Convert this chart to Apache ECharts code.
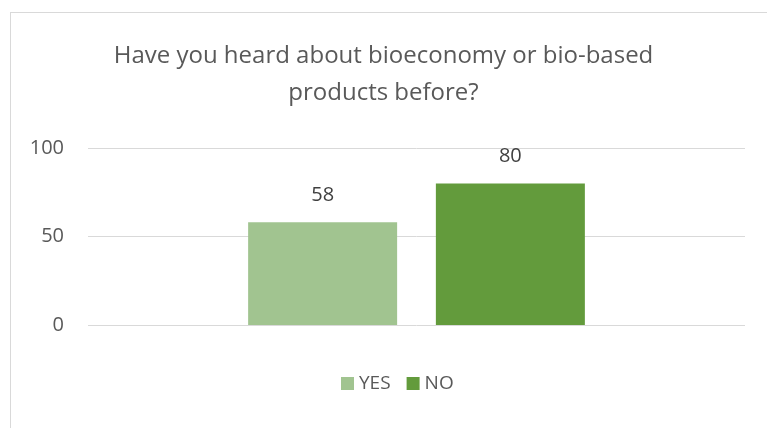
<!DOCTYPE html>
<html>
<head>
<meta charset="utf-8">
<script src="https://cdn.jsdelivr.net/npm/echarts@6/dist/echarts.min.js"></script>
<style>
html, body { margin: 0; padding: 0; background: #fff; }
#frame {
  position: absolute; left: 10px; top: 12px; width: 757px; height: 416px;
  border-left: 1px solid #d9d9d9; border-top: 1px solid #d9d9d9;
}
#chart { position: absolute; left: 0; top: 0; width: 767px; height: 428px; }
</style>
</head>
<body>
<div id="frame"></div>
<div id="chart"></div>
<script>
var categories = ['']
var seriesNames = ['YES', 'NO']
var yesValues = [58]
var noValues = [80]
var yTicks = [0, 50, 100]

var font = 'Open Sans, Noto Sans, sans-serif'
var chart = echarts.init(document.getElementById('chart'))
chart.setOption({
  animation: false,
  title: {
    text: 'Have you heard about bioeconomy or bio-based\nproducts before?',
    left: 'center',
    top: 33,
    textStyle: { color: '#595959', fontSize: 24, fontWeight: 'normal', fontFamily: font, lineHeight: 37 }
  },
  legend: {
    data: seriesNames,
    bottom: 30,
    left: 336,
    itemWidth: 13,
    itemHeight: 13,
    itemGap: 16,
    icon: 'rect',
    textStyle: { color: '#595959', fontSize: 19, fontFamily: font }
  },
  grid: { left: 88, right: 22, top: 148, bottom: 103 },
  xAxis: {
    type: 'category',
    data: categories,
    axisLine: { show: false },
    axisTick: { show: false },
    axisLabel: { show: false }
  },
  yAxis: {
    type: 'value',
    min: yTicks[0],
    max: yTicks[yTicks.length - 1],
    interval: 50,
    axisLine: { show: false },
    axisTick: { show: false },
    splitLine: { lineStyle: { color: '#d9d9d9', width: 1 } },
    axisLabel: { color: '#595959', fontSize: 20, fontFamily: font, margin: 24 }
  },
  series: [
    {
      name: seriesNames[0],
      type: 'bar',
      data: yesValues,
      barWidth: 149,
      barGap: '26%',
      itemStyle: { color: '#a1c490' },
      label: { show: true, position: 'top', distance: 17, color: '#404040', fontSize: 20, fontFamily: font }
    },
    {
      name: seriesNames[1],
      type: 'bar',
      data: noValues,
      barWidth: 149,
      itemStyle: { color: '#639b3c' },
      label: { show: true, position: 'top', distance: 17, color: '#404040', fontSize: 20, fontFamily: font }
    }
  ]
})
</script>
</body>
</html>
